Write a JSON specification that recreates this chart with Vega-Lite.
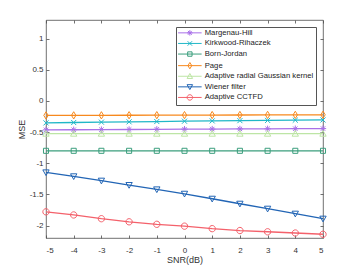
{
  "$schema": "https://vega.github.io/schema/vega-lite/v6.json",
  "width": 277,
  "height": 218,
  "autosize": "none",
  "padding": {"left": 46, "top": 20, "right": 34, "bottom": 30},
  "config": {
    "font": "Liberation Sans",
    "view": {"stroke": "#4d4d4d", "strokeWidth": 0.8},
    "axis": {
      "domain": false,
      "grid": false,
      "tickSize": -3,
      "tickColor": "#4d4d4d",
      "tickWidth": 0.8,
      "labelFontSize": 8,
      "labelColor": "#333333",
      "titleFontSize": 9,
      "titleFontWeight": "normal",
      "titleColor": "#333333"
    },
    "point": {"filled": false, "strokeWidth": 1, "size": 40, "opacity": 1}
  },
  "data": {
    "values": [
      {"snr": -5, "method": "Margenau-Hill", "mse": -0.464},
      {"snr": -4, "method": "Margenau-Hill", "mse": -0.462},
      {"snr": -3, "method": "Margenau-Hill", "mse": -0.460},
      {"snr": -2, "method": "Margenau-Hill", "mse": -0.458},
      {"snr": -1, "method": "Margenau-Hill", "mse": -0.455},
      {"snr": 0, "method": "Margenau-Hill", "mse": -0.453},
      {"snr": 1, "method": "Margenau-Hill", "mse": -0.451},
      {"snr": 2, "method": "Margenau-Hill", "mse": -0.449},
      {"snr": 3, "method": "Margenau-Hill", "mse": -0.447},
      {"snr": 4, "method": "Margenau-Hill", "mse": -0.445},
      {"snr": 5, "method": "Margenau-Hill", "mse": -0.443},
      {"snr": -5, "method": "Kirkwood-Rihaczek", "mse": -0.352},
      {"snr": -4, "method": "Kirkwood-Rihaczek", "mse": -0.346},
      {"snr": -3, "method": "Kirkwood-Rihaczek", "mse": -0.340},
      {"snr": -2, "method": "Kirkwood-Rihaczek", "mse": -0.335},
      {"snr": -1, "method": "Kirkwood-Rihaczek", "mse": -0.330},
      {"snr": 0, "method": "Kirkwood-Rihaczek", "mse": -0.325},
      {"snr": 1, "method": "Kirkwood-Rihaczek", "mse": -0.320},
      {"snr": 2, "method": "Kirkwood-Rihaczek", "mse": -0.316},
      {"snr": 3, "method": "Kirkwood-Rihaczek", "mse": -0.312},
      {"snr": 4, "method": "Kirkwood-Rihaczek", "mse": -0.308},
      {"snr": 5, "method": "Kirkwood-Rihaczek", "mse": -0.305},
      {"snr": -5, "method": "Born-Jordan", "mse": -0.80},
      {"snr": -4, "method": "Born-Jordan", "mse": -0.80},
      {"snr": -3, "method": "Born-Jordan", "mse": -0.80},
      {"snr": -2, "method": "Born-Jordan", "mse": -0.80},
      {"snr": -1, "method": "Born-Jordan", "mse": -0.80},
      {"snr": 0, "method": "Born-Jordan", "mse": -0.80},
      {"snr": 1, "method": "Born-Jordan", "mse": -0.80},
      {"snr": 2, "method": "Born-Jordan", "mse": -0.80},
      {"snr": 3, "method": "Born-Jordan", "mse": -0.80},
      {"snr": 4, "method": "Born-Jordan", "mse": -0.80},
      {"snr": 5, "method": "Born-Jordan", "mse": -0.80},
      {"snr": -5, "method": "Page", "mse": -0.232},
      {"snr": -4, "method": "Page", "mse": -0.231},
      {"snr": -3, "method": "Page", "mse": -0.230},
      {"snr": -2, "method": "Page", "mse": -0.229},
      {"snr": -1, "method": "Page", "mse": -0.228},
      {"snr": 0, "method": "Page", "mse": -0.227},
      {"snr": 1, "method": "Page", "mse": -0.226},
      {"snr": 2, "method": "Page", "mse": -0.225},
      {"snr": 3, "method": "Page", "mse": -0.224},
      {"snr": 4, "method": "Page", "mse": -0.223},
      {"snr": 5, "method": "Page", "mse": -0.222},
      {"snr": -5, "method": "Adaptive radial Gaussian kernel", "mse": -0.525},
      {"snr": -4, "method": "Adaptive radial Gaussian kernel", "mse": -0.525},
      {"snr": -3, "method": "Adaptive radial Gaussian kernel", "mse": -0.525},
      {"snr": -2, "method": "Adaptive radial Gaussian kernel", "mse": -0.525},
      {"snr": -1, "method": "Adaptive radial Gaussian kernel", "mse": -0.525},
      {"snr": 0, "method": "Adaptive radial Gaussian kernel", "mse": -0.525},
      {"snr": 1, "method": "Adaptive radial Gaussian kernel", "mse": -0.525},
      {"snr": 2, "method": "Adaptive radial Gaussian kernel", "mse": -0.525},
      {"snr": 3, "method": "Adaptive radial Gaussian kernel", "mse": -0.525},
      {"snr": 4, "method": "Adaptive radial Gaussian kernel", "mse": -0.525},
      {"snr": 5, "method": "Adaptive radial Gaussian kernel", "mse": -0.525},
      {"snr": -5, "method": "Wiener filter", "mse": -1.147},
      {"snr": -4, "method": "Wiener filter", "mse": -1.21},
      {"snr": -3, "method": "Wiener filter", "mse": -1.28},
      {"snr": -2, "method": "Wiener filter", "mse": -1.35},
      {"snr": -1, "method": "Wiener filter", "mse": -1.42},
      {"snr": 0, "method": "Wiener filter", "mse": -1.49},
      {"snr": 1, "method": "Wiener filter", "mse": -1.57},
      {"snr": 2, "method": "Wiener filter", "mse": -1.65},
      {"snr": 3, "method": "Wiener filter", "mse": -1.73},
      {"snr": 4, "method": "Wiener filter", "mse": -1.81},
      {"snr": 5, "method": "Wiener filter", "mse": -1.89},
      {"snr": -5, "method": "Adaptive CCTFD", "mse": -1.78},
      {"snr": -4, "method": "Adaptive CCTFD", "mse": -1.83},
      {"snr": -3, "method": "Adaptive CCTFD", "mse": -1.89},
      {"snr": -2, "method": "Adaptive CCTFD", "mse": -1.94},
      {"snr": -1, "method": "Adaptive CCTFD", "mse": -1.98},
      {"snr": 0, "method": "Adaptive CCTFD", "mse": -2.01},
      {"snr": 1, "method": "Adaptive CCTFD", "mse": -2.05},
      {"snr": 2, "method": "Adaptive CCTFD", "mse": -2.08},
      {"snr": 3, "method": "Adaptive CCTFD", "mse": -2.10},
      {"snr": 4, "method": "Adaptive CCTFD", "mse": -2.12},
      {"snr": 5, "method": "Adaptive CCTFD", "mse": -2.14}
    ]
  },
  "layer": [
    {
      "mark": {"type": "line", "strokeWidth": 1.3},
      "encoding": {
        "x": {
          "field": "snr", "type": "quantitative",
          "scale": {"domain": [-5, 5], "nice": false, "zero": false},
          "axis": {"orient": "bottom", "title": "SNR(dB)", "values": [-5, -4, -3, -2, -1, 0, 1, 2, 3, 4, 5], "labelExpr": "toString(datum.value)", "labelPadding": 11, "titlePadding": 1}
        },
        "y": {
          "field": "mse", "type": "quantitative",
          "scale": {"domain": [-2.2, 1.3], "nice": false, "zero": false},
          "axis": {"orient": "left", "title": "MSE", "values": [-2, -1.5, -1, -0.5, 0, 0.5, 1], "labelExpr": "toString(datum.value)", "labelPadding": 6, "titlePadding": 3}
        },
        "color": {
          "field": "method", "type": "nominal",
          "scale": {
            "domain": ["Margenau-Hill", "Kirkwood-Rihaczek", "Born-Jordan", "Page", "Adaptive radial Gaussian kernel", "Wiener filter", "Adaptive CCTFD"],
            "range": ["#a970e8", "#20b7c7", "#3b9e7d", "#f7891e", "#bde5a5", "#2265b5", "#f4616b"]
          },
          "legend": {
            "orient": "none", "legendX": 130, "legendY": 7, "title": null,
            "strokeColor": "#555555", "fillColor": "white", "padding": 2,
            "labelFontSize": 7.7, "labelColor": "#222222", "labelOffset": 11,
            "symbolOffset": 8, "rowPadding": 0.6, "symbolSize": 30, "symbolStrokeWidth": 1,
            "symbolFillColor": "transparent", "symbolType": "circle",
            "encode": {"symbols": {"update": {"fill": {"value": "transparent"}, "shape": {"signal": "'M-4.3,0L4.3,0' + (datum.value === 'Margenau-Hill' ? 'M-1,0L1,0M0,-1L0,1M-0.7,-0.7L0.7,0.7M-0.7,0.7L0.7,-0.7' : datum.value === 'Kirkwood-Rihaczek' ? 'M-0.8,-0.8L0.8,0.8M-0.8,0.8L0.8,-0.8' : datum.value === 'Born-Jordan' ? 'M-0.8,-0.8L0.8,-0.8L0.8,0.8L-0.8,0.8Z' : datum.value === 'Page' ? 'M0,-1.15L0.7,0L0,1.15L-0.7,0Z' : datum.value === 'Adaptive radial Gaussian kernel' ? 'M-1,0.8L1,0.8L0,-1Z' : datum.value === 'Wiener filter' ? 'M-1,-0.8L1,-0.8L0,1Z' : 'M1,0A1,1 0 1,1 -1,0A1,1 0 1,1 1,0Z')"}}}}
          }
        }
      }
    },
    {
      "transform": [{"filter": {"field": "method", "equal": "Margenau-Hill"}}],
      "mark": {"type": "point", "color": "#a970e8", "shape": "M-1,0L1,0M0,-1L0,1M-0.7,-0.7L0.7,0.7M-0.7,0.7L0.7,-0.7"},
      "encoding": {
        "x": {"field": "snr", "type": "quantitative", "axis": {"orient": "top", "title": null, "labels": false, "values": [-5, -4, -3, -2, -1, 0, 1, 2, 3, 4, 5]}},
        "y": {"field": "mse", "type": "quantitative", "axis": {"orient": "right", "title": null, "labels": false, "values": [-2, -1.5, -1, -0.5, 0, 0.5, 1]}}
      }
    },
    {
      "transform": [{"filter": {"field": "method", "equal": "Kirkwood-Rihaczek"}}],
      "mark": {"type": "point", "color": "#20b7c7", "shape": "M-0.8,-0.8L0.8,0.8M-0.8,0.8L0.8,-0.8"},
      "encoding": {
        "x": {"field": "snr", "type": "quantitative", "axis": null},
        "y": {"field": "mse", "type": "quantitative", "axis": null}
      }
    },
    {
      "transform": [{"filter": {"field": "method", "equal": "Born-Jordan"}}],
      "mark": {"type": "point", "color": "#3b9e7d", "shape": "M-0.8,-0.8L0.8,-0.8L0.8,0.8L-0.8,0.8Z"},
      "encoding": {
        "x": {"field": "snr", "type": "quantitative", "axis": null},
        "y": {"field": "mse", "type": "quantitative", "axis": null}
      }
    },
    {
      "transform": [{"filter": {"field": "method", "equal": "Page"}}],
      "mark": {"type": "point", "color": "#f7891e", "shape": "M0,-1.15L0.7,0L0,1.15L-0.7,0Z"},
      "encoding": {
        "x": {"field": "snr", "type": "quantitative", "axis": null},
        "y": {"field": "mse", "type": "quantitative", "axis": null}
      }
    },
    {
      "transform": [{"filter": {"field": "method", "equal": "Adaptive radial Gaussian kernel"}}],
      "mark": {"type": "point", "color": "#bde5a5", "shape": "M-1,0.8L1,0.8L0,-1Z"},
      "encoding": {
        "x": {"field": "snr", "type": "quantitative", "axis": null},
        "y": {"field": "mse", "type": "quantitative", "axis": null}
      }
    },
    {
      "transform": [{"filter": {"field": "method", "equal": "Wiener filter"}}],
      "mark": {"type": "point", "color": "#2265b5", "shape": "M-1,-0.8L1,-0.8L0,1Z"},
      "encoding": {
        "x": {"field": "snr", "type": "quantitative", "axis": null},
        "y": {"field": "mse", "type": "quantitative", "axis": null}
      }
    },
    {
      "transform": [{"filter": {"field": "method", "equal": "Adaptive CCTFD"}}],
      "mark": {"type": "point", "color": "#f4616b", "shape": "M1,0A1,1 0 1,1 -1,0A1,1 0 1,1 1,0Z"},
      "encoding": {
        "x": {"field": "snr", "type": "quantitative", "axis": null},
        "y": {"field": "mse", "type": "quantitative", "axis": null}
      }
    }
  ],
  "resolve": {"axis": {"x": "independent", "y": "independent"}}
}
